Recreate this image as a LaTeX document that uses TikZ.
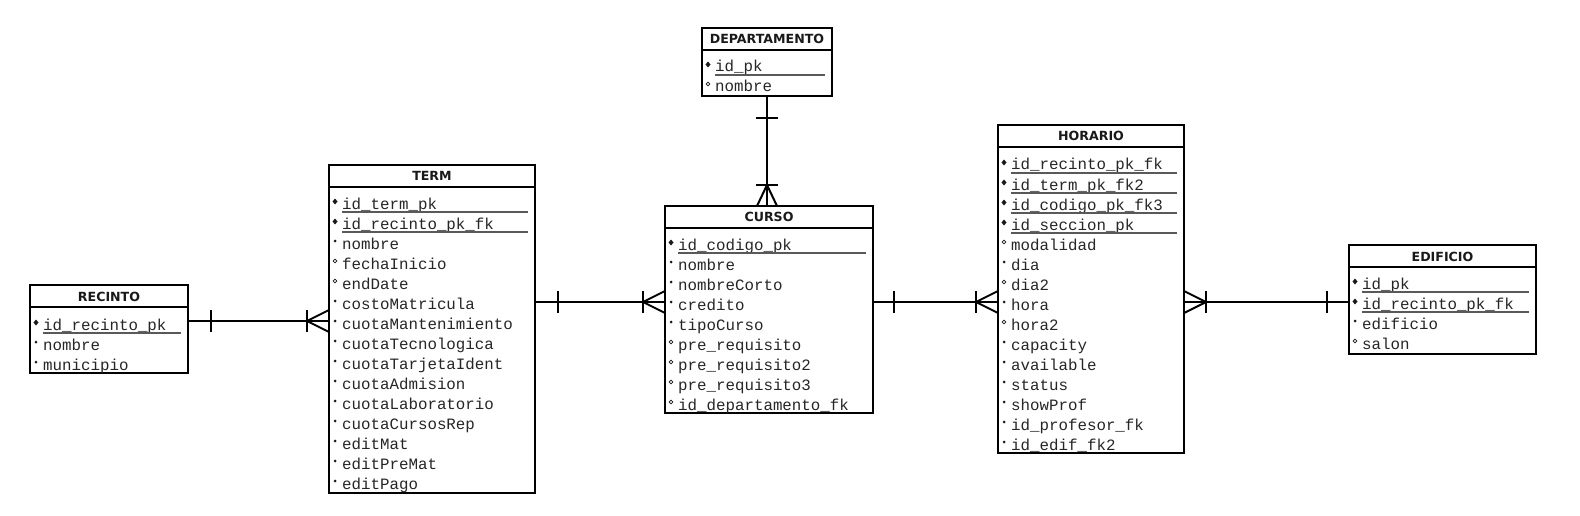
\documentclass[tikz,border=0pt]{standalone}
\usepackage{fontspec}
\setmainfont{DejaVu Sans}
\setmonofont{Liberation Mono}
\usetikzlibrary{calc}
\tikzset{
  tbl/.style={draw=black, line width=2.5pt, fill=white, anchor=north west, inner sep=0pt, outer sep=0pt},
  hline/.style={draw=black, line width=2pt},
  hdr/.style={font=\fontsize{12.6}{13}\selectfont\bfseries, text=black!90, anchor=base, inner sep=0pt},
  attr/.style={font=\fontsize{15.8}{16}\selectfont\ttfamily, text=black!85, anchor=base west, inner sep=0pt},
  uline/.style={draw=black!65, line width=1.3pt},
  conn/.style={draw=black, line width=2pt},
  mk/.style={black!90},
}
\newcommand\ertable[6]{%
  \node[tbl, minimum width=#4pt, minimum height=#5pt] (#1) at (#2,#3) {};
  \draw[hline] (#2,#3+22) -- (#2+#4,#3+22);
  \node[hdr] (#1-title) at (#2+#4/2,#3+16) {#6};
}
\newcommand\ermkp[3]{%
  \fill[mk] (#1+6,#3-10.5) -- (#1+8.5,#3-7.5) -- (#1+6,#3-4.5) -- (#1+3.5,#3-7.5) -- cycle;
  \draw[uline] (#1+13,#3+3) -- (#2-7,#3+3);}
\newcommand\ermkm[3]{\fill[mk] (#1+6,#3-8) circle (1.5pt);}
\newcommand\ermko[3]{\draw[mk, line width=0.8pt] (#1+6,#3-8) circle (1.9pt);}
\newcommand\errows[5]{%
  \foreach[count=\i from 0] \typ/\txt in {#5} {
    \pgfmathsetmacro\yy{#4+20*\i}
    \node[attr] (#1-\i) at (#2+13,\yy) {\txt};
    \csname ermk\typ\endcsname{#2}{#3}{\yy}
  }}
\newcommand\htick[2]{\draw[conn] ($(#1)+(#2,-11)$) -- ($(#1)+(#2,11)$);}
\newcommand\hcrow[2]{%
  \draw[conn] ($(#1)+(0,-11)$) -- ($(#1)+(#2,0)$) -- ($(#1)+(0,11)$);
  \htick{#1}{#2}}
\newcommand\vtick[2]{\draw[conn] ($(#1)+(-11,#2)$) -- ($(#1)+(11,#2)$);}
\newcommand\vcrow[2]{%
  \draw[conn] ($(#1)+(-10,0)$) -- ($(#1)+(0,#2)$) -- ($(#1)+(10,0)$);
  \vtick{#1}{#2}}
\begin{document}
\begin{tikzpicture}[x=1pt,y=-1pt]
\useasboundingbox[fill=white] (0,0) rectangle (1580,516);

% tables
\ertable{recinto}{30}{285}{158}{88}{RECINTO}
\ertable{term}{329}{165}{206}{328}{TERM}
\ertable{curso}{665}{206}{208}{207}{CURSO}
\ertable{departamento}{702}{28}{130}{68}{DEPARTAMENTO}
\ertable{horario}{998}{125}{186}{328}{HORARIO}
\ertable{edificio}{1349}{245}{187}{109}{EDIFICIO}

\errows{recinto}{30}{188}{330}{p/id\_recinto\_pk, m/nombre, m/municipio}
\errows{term}{329}{535}{209}{p/id\_term\_pk, p/id\_recinto\_pk\_fk, m/nombre, o/fechaInicio, o/endDate, m/costoMatricula, m/cuotaMantenimiento, m/cuotaTecnologica, m/cuotaTarjetaIdent, m/cuotaAdmision, m/cuotaLaboratorio, m/cuotaCursosRep, m/editMat, m/editPreMat, m/editPago}
\errows{curso}{665}{873}{250}{p/id\_codigo\_pk, m/nombre, m/nombreCorto, m/credito, m/tipoCurso, o/pre\_requisito, o/pre\_requisito2, o/pre\_requisito3, o/id\_departamento\_fk}
\errows{departamento}{702}{832}{72}{p/id\_pk, o/nombre}
\errows{horario}{998}{1184}{170}{p/id\_recinto\_pk\_fk, p/id\_term\_pk\_fk2, p/id\_codigo\_pk\_fk3, p/id\_seccion\_pk, o/modalidad, m/dia, o/dia2, m/hora, o/hora2, m/capacity, m/available, m/status, m/showProf, m/id\_profesor\_fk, m/id\_edif\_fk2}
\errows{edificio}{1349}{1536}{289}{p/id\_pk, p/id\_recinto\_pk\_fk, m/edificio, o/salon}

% connector end points
\coordinate (ya) at (0,321);
\coordinate (yb) at (0,302);
\coordinate (r-e) at (recinto.east|-ya);
\coordinate (t-w) at (term.west|-ya);
\coordinate (t-e) at (term.east|-yb);
\coordinate (c-w) at (curso.west|-yb);
\coordinate (c-e) at (curso.east|-yb);
\coordinate (h-w) at (horario.west|-yb);
\coordinate (h-e) at (horario.east|-yb);
\coordinate (e-w) at (edificio.west|-yb);
\coordinate (d-s) at (departamento.south);
\coordinate (c-n) at (departamento.south|-curso.north);

% connectors
\draw[conn] (r-e) -- (t-w);
\htick{r-e}{23}
\hcrow{t-w}{-22}

\draw[conn] (t-e) -- (c-w);
\htick{t-e}{23}
\hcrow{c-w}{-22}

\draw[conn] (c-e) -- (h-w);
\htick{c-e}{21}
\hcrow{h-w}{-22}

\draw[conn] (h-e) -- (e-w);
\hcrow{h-e}{22}
\htick{e-w}{-22}

\draw[conn] (d-s) -- (c-n);
\vtick{d-s}{22}
\vcrow{c-n}{-21}
\end{tikzpicture}
\end{document}
